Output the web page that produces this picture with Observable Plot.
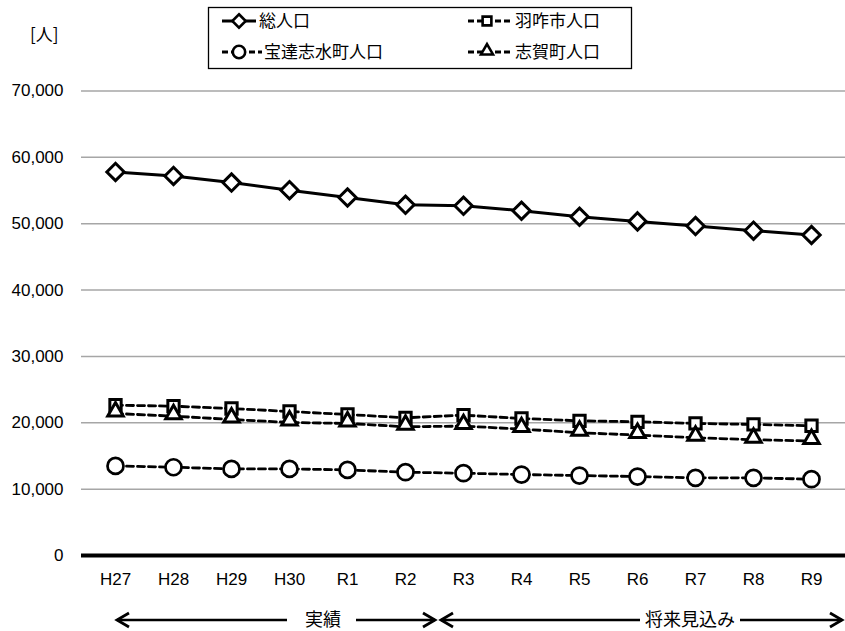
<!DOCTYPE html>
<html>
<head>
<meta charset="utf-8">
<script src="https://cdn.jsdelivr.net/npm/d3@7"></script>
<script src="https://cdn.jsdelivr.net/npm/@observablehq/plot@0.6"></script>
<style>
  body { margin: 0; background: #fff; }
  #wrap { position: relative; width: 845px; height: 631px; background: #fff; overflow: hidden; }
  #wrap > * { position: absolute; }
  #unit { left: 30px; top: 21px; font: 17px "Noto Sans CJK JP", sans-serif; color: #000; }
</style>
</head>
<body>
<div id="wrap"><div id="unit">[人]</div></div>
<script>
// ---- data ----
const years = ["H27","H28","H29","H30","R1","R2","R3","R4","R5","R6","R7","R8","R9"];
const seriesNames = ["総人口","羽咋市人口","宝達志水町人口","志賀町人口"];
const totalPop   = [57800, 57200, 56200, 55050, 53950, 52850, 52700, 51950, 51050, 50350, 49650, 48950, 48300];
const hakuiPop   = [22650, 22500, 22150, 21700, 21250, 20750, 21150, 20650, 20300, 20150, 19900, 19750, 19550];
const hodatsuPop = [13500, 13300, 13050, 13050, 12900, 12550, 12400, 12200, 12050, 11900, 11700, 11700, 11500];
const shikaPop   = [21400, 21000, 20500, 20050, 19900, 19400, 19500, 19050, 18500, 18150, 17750, 17450, 17250];
const yTicks = [0, 10000, 20000, 30000, 40000, 50000, 60000, 70000];
const periodLabels = ["実績", "将来見込み"];

const seriesValues = [totalPop, hakuiPop, hodatsuPop, shikaPop];
const rows = [];
seriesNames.forEach((name, i) => years.forEach((yr, j) => rows.push({series: name, year: yr, value: seriesValues[i][j]})));

// ---- styles per series ----
const styles = {
  "総人口":       {symbol: "diamond2",  r: 7.8, dash: null,  sw: 3,   msw: 3,   dy: 0},
  "羽咋市人口":   {symbol: "square2",   r: 7.2, dash: "7,4", sw: 2.8, msw: 3,   dy: 0},
  "宝達志水町人口": {symbol: "circle",    r: 8.0, dash: "7,4", sw: 2.8, msw: 2.7, dy: 0},
  "志賀町人口":   {symbol: "triangle2", r: 7.4, dash: "7,4", sw: 2.8, msw: 3,   dy: -2}
};

const lineMarks = [], dotMarks = [];
seriesNames.forEach(name => {
  const st = styles[name];
  const data = rows.filter(d => d.series === name);
  lineMarks.push(Plot.line(data, {x: "year", y: "value", stroke: "#000", strokeWidth: st.sw, strokeDasharray: st.dash}));
  dotMarks.push(Plot.dot(data, {x: "year", y: "value", symbol: () => st.symbol, r: st.r, stroke: "#000", strokeWidth: st.msw, fill: "#fff", dy: st.dy}));
});

const chart = Plot.plot({
  width: 845, height: 515,
  marginTop: 10.5, marginLeft: 81, marginRight: 0, marginBottom: 40,
  style: {fontFamily: '"Liberation Sans", Arial, sans-serif', fontSize: "17px", color: "#000", background: "#fff"},
  x: {type: "point", domain: years, padding: 0.5, label: null},
  y: {domain: [0, 70000], label: null},
  symbol: {type: "identity"},
  marks: [
    Plot.gridY(yTicks.filter(d => d > 0), {stroke: "#a6a6a6", strokeOpacity: 1, strokeWidth: 1.5}),
    Plot.axisY(yTicks, {tickSize: 0, tickPadding: 18, tickFormat: d3.format(","), label: null}),
    Plot.axisX({tickSize: 0, tickPadding: 17, label: null}),
    Plot.ruleY([0], {stroke: "#000", strokeWidth: 4}),
    ...lineMarks,
    ...dotMarks
  ]
});
chart.style.left = "0px";
chart.style.top = "80px";
document.getElementById("wrap").appendChild(chart);

// ---- legend (above the chart) ----
const symType = {diamond2: d3.symbolDiamond2, square2: d3.symbolSquare2, triangle2: d3.symbolTriangle2, circle: d3.symbolCircle};
const leg = d3.create("svg").attr("width", 845).attr("height", 80).style("left", "0px").style("top", "0px")
  .style("font-family", '"Noto Sans CJK JP", sans-serif').style("font-size", "17px");
leg.append("rect").attr("x", 208.5).attr("y", 7.5).attr("width", 423).attr("height", 61)
  .attr("fill", "#fff").attr("stroke", "#000").attr("stroke-width", 1.3);
const legPos = [
  {x0: 222, x1: 256, y: 21, tx: 259},
  {x0: 468, x1: 512, y: 21, tx: 515},
  {x0: 222, x1: 262, y: 52, tx: 264},
  {x0: 468, x1: 512, y: 52, tx: 515}
];
seriesNames.forEach((name, i) => {
  const p = legPos[i], st = styles[name];
  const g = leg.append("g");
  g.append("line").attr("x1", p.x0).attr("x2", p.x1).attr("y1", p.y).attr("y2", p.y)
    .attr("stroke", "#000").attr("stroke-width", st.sw).attr("stroke-dasharray", st.dash ? "6,3" : null);
  const cx = (p.x0 + p.x1) / 2 - (st.dash ? 3 : 0);
  const size = Math.PI * st.r * st.r * 0.6;
  g.append("path").attr("d", d3.symbol(symType[st.symbol], size)())
    .attr("transform", `translate(${cx},${p.y + (st.dy ? -1 : 0)})`)
    .attr("fill", "#fff").attr("stroke", "#000").attr("stroke-width", 2.6);
  g.append("text").attr("x", p.tx).attr("y", p.y).attr("dy", "0.35em").text(name);
});
document.getElementById("wrap").appendChild(leg.node());

// ---- period annotation (below the chart) ----
const ann = d3.create("svg").attr("width", 845).attr("height", 36).style("left", "0px").style("top", "595px")
  .style("font-family", '"Noto Sans CJK JP", sans-serif').style("font-size", "18px");
const ay = 25;
function arrow(xFrom, xTip) {
  const dir = xTip > xFrom ? 1 : -1;
  ann.append("line").attr("x1", xFrom).attr("x2", xTip).attr("y1", ay).attr("y2", ay).attr("stroke", "#000").attr("stroke-width", 2.5);
  ann.append("path").attr("d", `M${xTip - dir * 12},${ay - 7}L${xTip},${ay}L${xTip - dir * 12},${ay + 7}`)
    .attr("fill", "none").attr("stroke", "#000").attr("stroke-width", 2.8);
}
arrow(287, 117);
arrow(356, 435);
arrow(640, 441);
arrow(740, 842);
ann.append("text").attr("x", 323).attr("y", ay).attr("dy", "0.35em").attr("text-anchor", "middle").text(periodLabels[0]);
ann.append("text").attr("x", 690).attr("y", ay).attr("dy", "0.35em").attr("text-anchor", "middle").text(periodLabels[1]);
document.getElementById("wrap").appendChild(ann.node());
</script>
</body>
</html>
